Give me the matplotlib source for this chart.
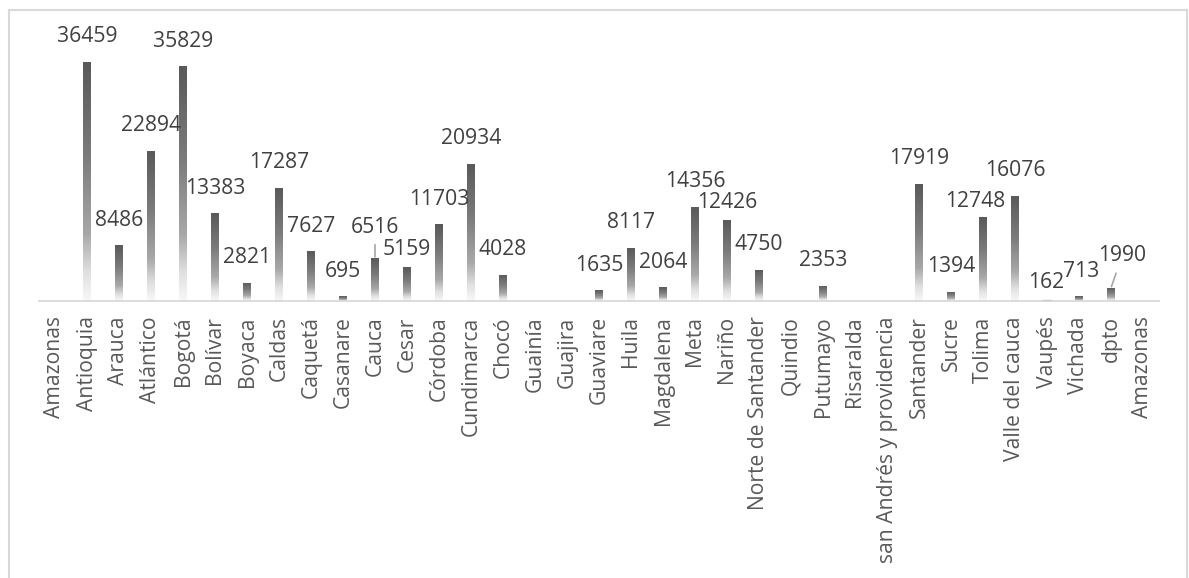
import numpy as np
import matplotlib
matplotlib.use("Agg")
import matplotlib.pyplot as plt
from matplotlib.colors import LinearSegmentedColormap
from matplotlib.lines import Line2D

# ---- data ----
categories = ["Amazonas", "Antioquia", "Arauca", "Atlántico", "Bogotá", "Bolívar",
              "Boyaca", "Caldas", "Caquetá", "Casanare", "Cauca", "Cesar", "Córdoba",
              "Cundimarca", "Chocó", "Guainía", "Guajira", "Guaviare", "Huila",
              "Magdalena", "Meta", "Nariño", "Norte de Santander", "Quindio",
              "Putumayo", "Risaralda", "san Andrés y providencia", "Santander",
              "Sucre", "Tolima", "Valle del cauca", "Vaupés", "Vichada", "dpto",
              "Amazonas"]
values = [np.nan, 36459, 8486, 22894, 35829, 13383,
          2821, 17287, 7627, 695, 6516, 5159, 11703,
          20934, 4028, np.nan, np.nan, 1635, 8117,
          2064, 14356, 12426, 4750, np.nan,
          2353, np.nan, np.nan, 17919,
          1394, 12748, 16076, 162, 713, 1990,
          np.nan]

# label nudges in pixels (dx, dy-down) for manually moved labels
nudges = {"Cauca": (0, -6), "Cesar": (0, 7), "Nariño": (0, 8), "Tolima": (-8, 9),
          "Vaupés": (-1, 8), "Vichada": (2, 0), "dpto": (11, -7)}
leaders = {"Cauca", "dpto"}

W, H = 1189, 578
fig = plt.figure(figsize=(W / 100, H / 100), dpi=100)
fig.patch.set_facecolor("white")

ax_left, ax_right, ax_bottom, ax_top = 39, 1159, 301, 20
ax = fig.add_axes([ax_left / W, 1 - ax_bottom / H,
                   (ax_right - ax_left) / W, (ax_bottom - ax_top) / H])

n = len(categories)
x = np.arange(n)
ymax = 36459 * (ax_bottom - ax_top) / 239.0

cmap = LinearSegmentedColormap.from_list(
    "g", [(0.0, "#f8f8f8"), (0.12, "#e0e0e0"), (0.28, "#a8a8a8"),
          (0.6, "#7c7c7c"), (1.0, "#595959")])
grad = np.linspace(0, 1, 256).reshape(-1, 1)
bw = 0.25
for xi, v in zip(x, values):
    if np.isnan(v) or v <= 0:
        continue
    bar = ax.bar(xi, v, width=bw, color="none", edgecolor="none")[0]
    im = ax.imshow(grad, cmap=cmap, origin="lower", aspect="auto",
                   extent=[xi - bw / 2, xi + bw / 2, 0, v], zorder=2,
                   interpolation="bilinear")
    im.set_clip_path(bar)
    if v < 400:
        ax.plot([xi - bw / 2, xi + bw / 2], [v, v], color="#c8c8c8", lw=1, zorder=3)
ax.set_aspect("auto")
ax.set_xlim(-0.5, n - 0.5)
ax.set_ylim(0, ymax)

fs = 15.2
for xi, v, cat in zip(x, values, categories):
    if np.isnan(v):
        continue
    dx, dy = nudges.get(cat, (0, 0))
    kw = {}
    if cat in leaders:
        kw["arrowprops"] = dict(arrowstyle="-", color="#a6a6a6", lw=1.2,
                                shrinkA=3, shrinkB=1)
    ax.annotate(f"{int(v)}", xy=(xi, v), xytext=(dx, 25 - dy),
                textcoords="offset pixels", ha="center", va="center",
                fontsize=fs, family="Open Sans", color="#404040", **kw)

for s in ["left", "right", "top"]:
    ax.spines[s].set_visible(False)
ax.spines["bottom"].set_color("#d9d9d9")
ax.spines["bottom"].set_linewidth(1.3)
ax.set_yticks([])
ax.set_xticks(x)
ax.set_xticklabels(categories, rotation=90, fontsize=fs, family="Open Sans",
                   color="#595959", ha="center", va="top")
ax.tick_params(axis="x", length=0, pad=11)

# outer frame
fc = "#d9d9d9"
fig.add_artist(Line2D([9 / W, 1187 / W], [1 - 10 / H, 1 - 10 / H], color=fc, lw=1.5))
fig.add_artist(Line2D([9 / W, 9 / W], [1 - 10 / H, -0.01], color=fc, lw=1.5))
fig.add_artist(Line2D([1187 / W, 1187 / W], [1 - 10 / H, -0.01], color=fc, lw=1.5))

fig.savefig("out.png", dpi=100, facecolor="white")
